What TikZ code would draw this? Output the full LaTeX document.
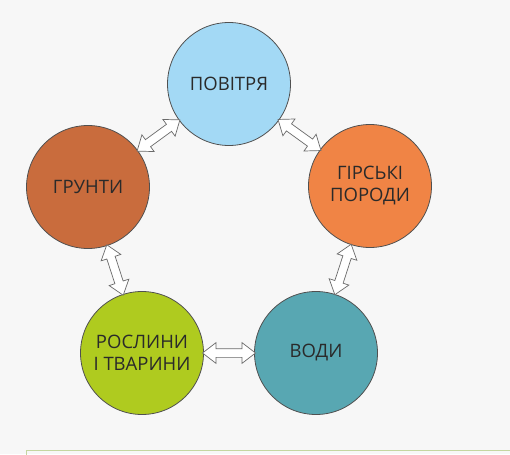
\documentclass[tikz,border=0pt]{standalone}
\usepackage{fontspec}
\setmainfont{Open Sans}
\usetikzlibrary{shapes.arrows}
\definecolor{bg}{HTML}{F7F7F7}
\definecolor{txt}{HTML}{2A2A2A}
\definecolor{rim}{HTML}{505050}
\definecolor{cair}{HTML}{A3D9F5}
\definecolor{csoil}{HTML}{C96C3D}
\definecolor{crock}{HTML}{F08445}
\definecolor{cwater}{HTML}{58A7B2}
\definecolor{cplant}{HTML}{AFCB1F}
\definecolor{cbox}{HTML}{C5D6A0}
\definecolor{arrowrim}{HTML}{6A6A6A}
\tikzset{
  sphere/.style={circle, draw=rim, line width=0.8pt, minimum size=123pt, inner sep=0pt,
    text=txt, font=\fontsize{18.5}{22}\selectfont, align=center},
  dblarrow/.style={double arrow, draw=arrowrim, fill=white, line width=0.7pt,
    minimum height=53pt, minimum width=20pt, inner xsep=0pt, inner ysep=4pt,
    double arrow head extend=6pt, double arrow tip angle=75, sloped}
}
\begin{document}
\begin{tikzpicture}[x=1pt,y=-1pt]
\fill[bg] (0,0) rectangle (510,454);
\useasboundingbox (0,0) rectangle (510,454);
\draw[cbox, line width=1pt] (26,460) -- (26,450.5) -- (515,450.5);
\node[sphere, fill=cair]   (air)   at (229,84)  {ПОВІТРЯ};
\node[sphere, fill=csoil]  (soil)  at (88,187)  {ГРУНТИ};
\node[sphere, fill=crock]  (rock)  at (370,186) {ГІРСЬКІ\\ПОРОДИ};
\node[sphere, fill=cwater] (water) at (316,353) {ВОДИ};
\node[sphere, fill=cplant] (plant) at (142,353) {РОСЛИНИ\\І ТВАРИНИ};
\path (air) -- (soil) node[midway, dblarrow] (a1) {};
\path (air) -- (rock) node[midway, dblarrow] (a2) {};
\path (rock) -- (water) node[midway, dblarrow] (a3) {};
\path (plant) -- (water) node[midway, dblarrow] (a4) {};
\path (soil) -- (plant) node[midway, dblarrow] (a5) {};
\end{tikzpicture}
\end{document}
